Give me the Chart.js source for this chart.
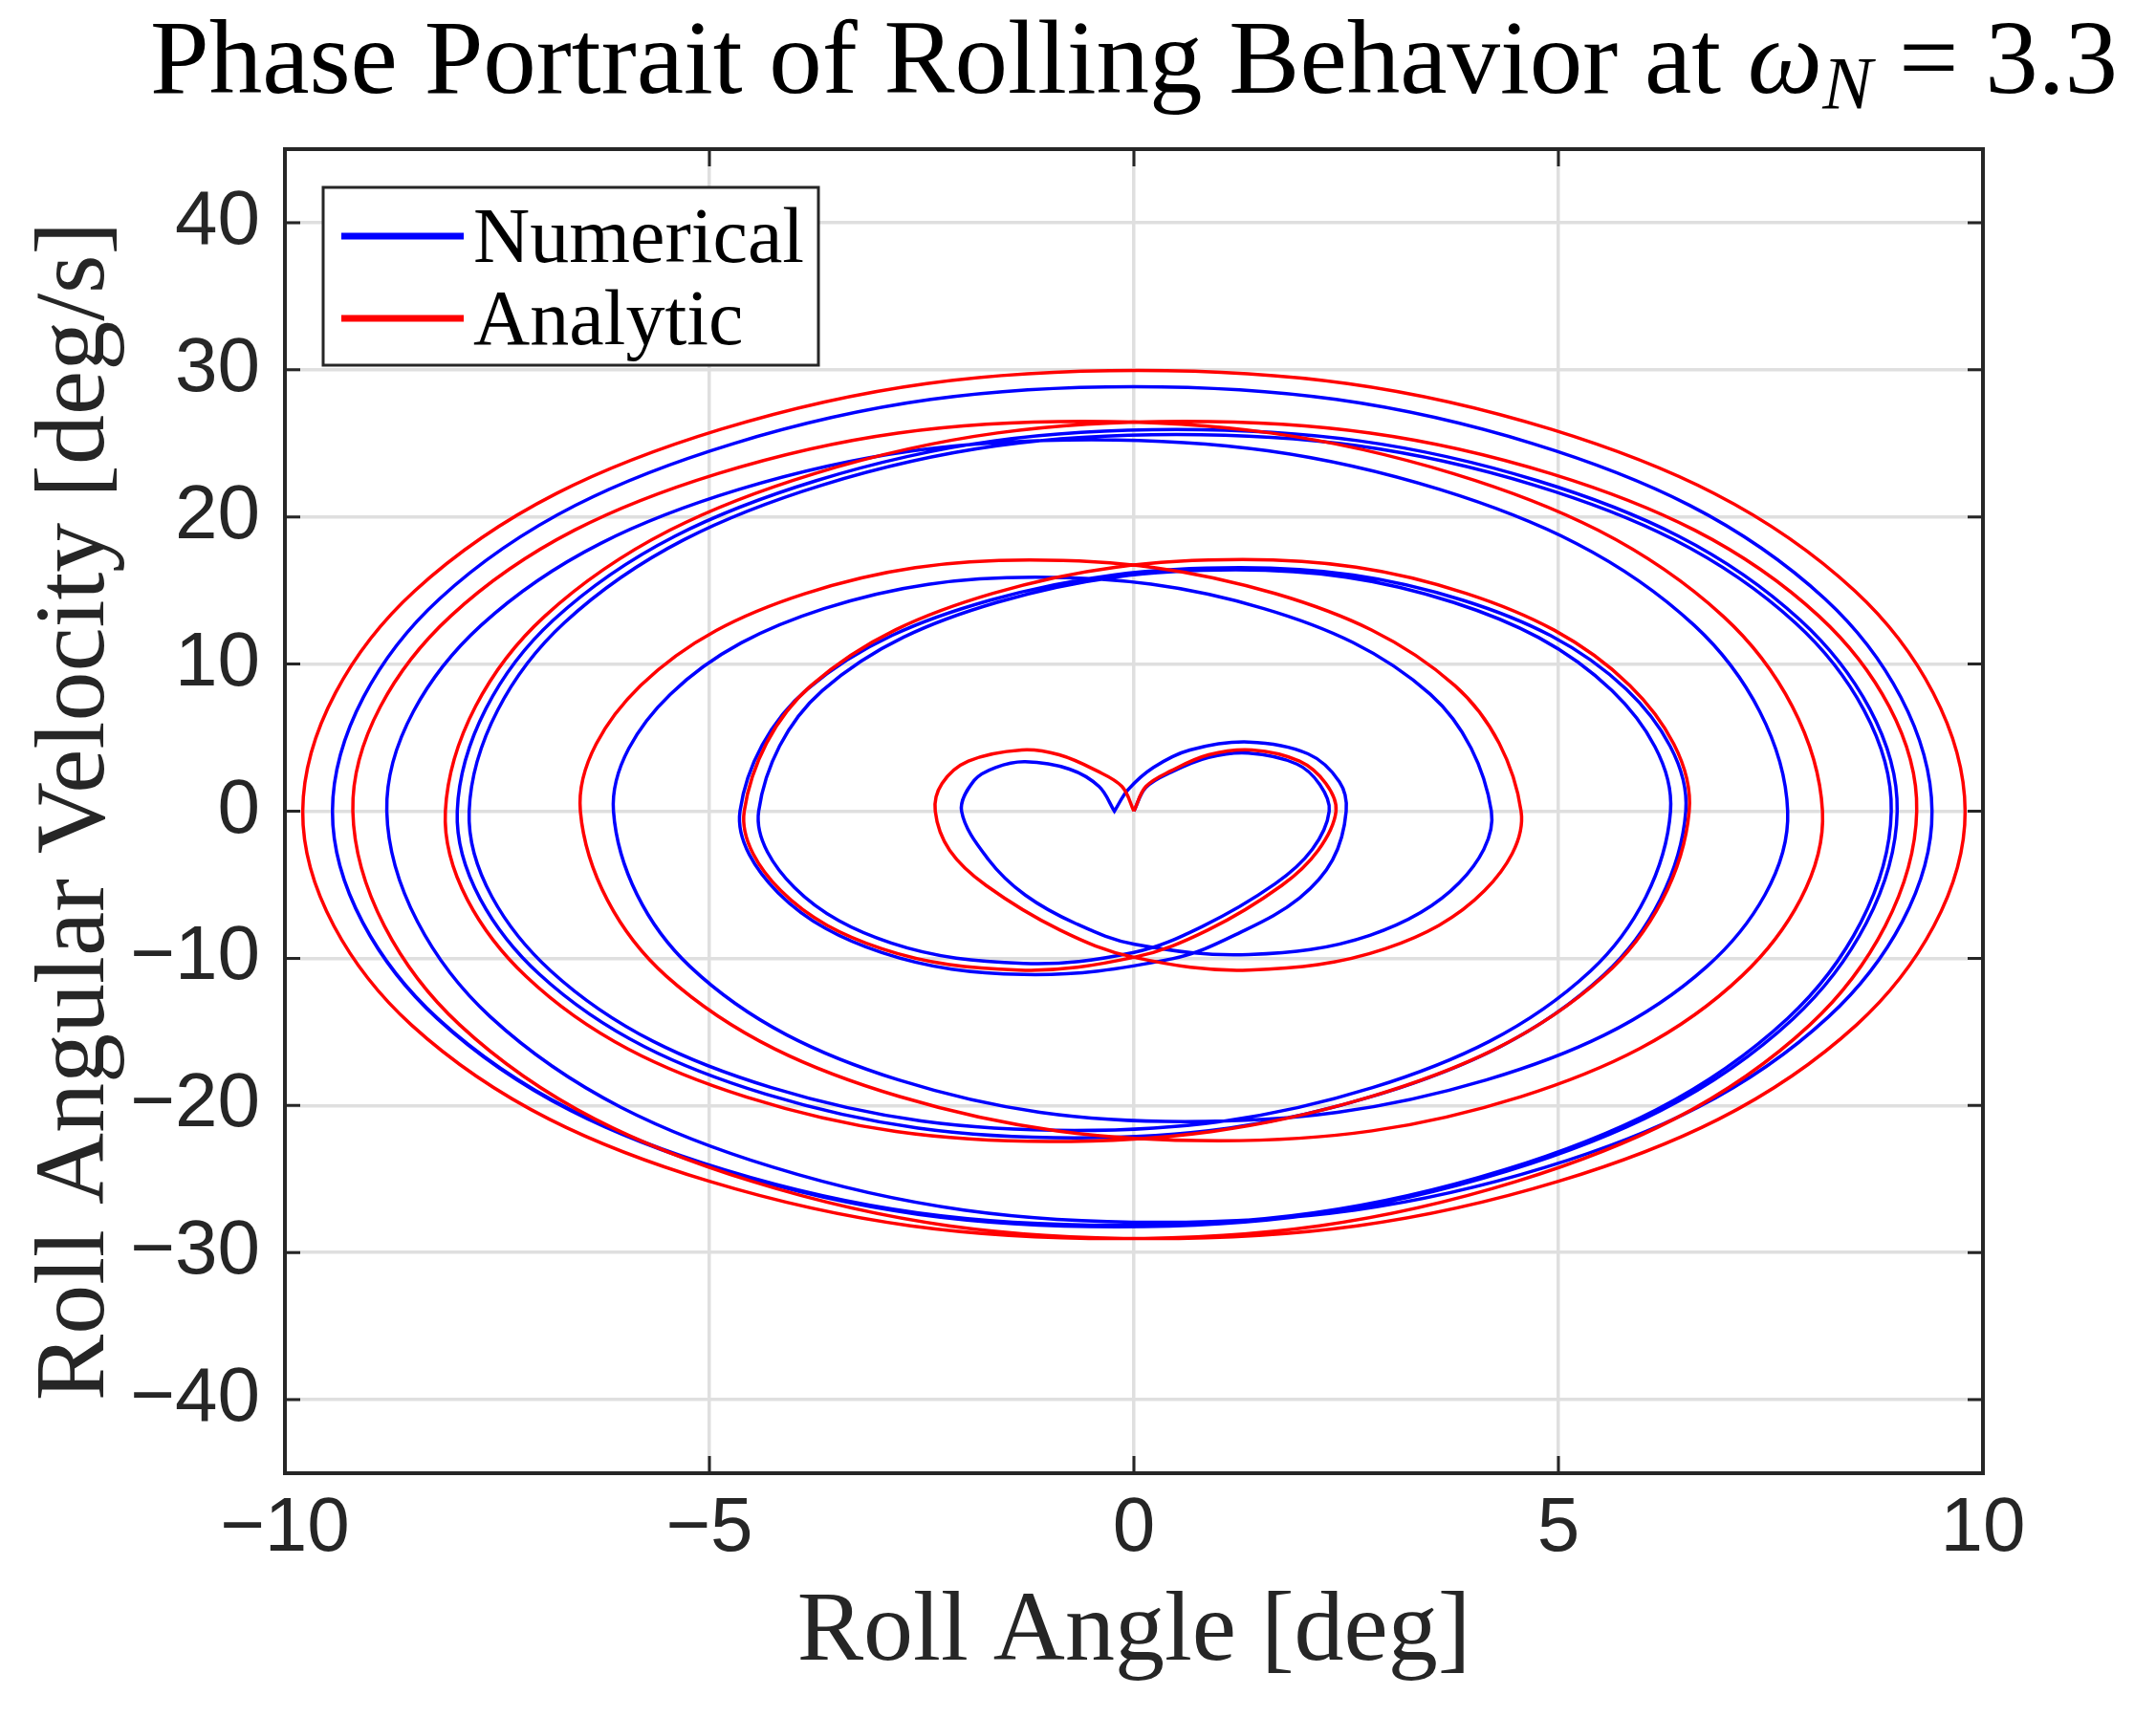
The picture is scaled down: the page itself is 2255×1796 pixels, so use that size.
<!DOCTYPE html>
<html>
<head>
<meta charset="utf-8">
<title>Phase Portrait of Rolling Behavior</title>
<script src="https://cdn.jsdelivr.net/npm/chart.js@4.4.1/dist/chart.umd.min.js"></script>
<style>
  html, body { margin: 0; padding: 0; background: #fff; }
  #wrap { width: 2255px; height: 1796px; }
</style>
</head>
<body>
<div id="wrap"><canvas id="phase" width="2255" height="1796"></canvas></div>
<script>
const numericalX = [
  0, 0.14, 0.44, 0.88, 1.35, 1.92, 2.19, 2.30,
  2.10, 1.66, 0.80, 0.0, -1.3, -2.86, -4.0, -4.42,
  -3.67, -1.61, 1.2, 3.76, 5.63, 6.32,
  5.38, 2.81, -0.7, -4.27, -6.87, -7.83,
  -6.71, -3.67, 0.5, 4.71, 7.79, 8.92,
  7.70, 4.36, -0.2, -4.82, -8.20, -9.44,
  -8.18, -4.72, 0.0, 4.70, 8.14, 9.40,
  8.18, 4.85, 0.3, -4.25, -7.58, -8.80,
  -7.69, -4.65, -0.5, 3.6, 6.60, 7.70,
  6.75, 4.15, 0.6, -2.77, -5.23, -6.13,
  -5.46, -3.65, -1.16, 1.53, 3.49, 4.21,
  3.83, 2.78, 1.35, 0.01, -0.68, -1.28, -1.71, -2.03,
  -1.88, -1.63, -1.28, -0.76, -0.41, -0.23,
  -0.23, -0.07, 0.23, 0.66, 1.35, 2.05, 2.42, 2.50,
  2.34, 1.95, 1.31, 0.45, -1.3, -2.97, -4.19, -4.64,
  -3.85, -1.70, 1.25, 3.88, 5.80, 6.50,
  5.54, 2.9, -0.7, -4.34, -7.0, -7.97,
  -6.84, -3.74, 0.5, 4.75, 7.85, 8.99,
  7.76, 4.40, -0.2, -4.82, -8.20, -9.44,
  -8.18, -4.72, 0.0
];
const numericalY = [
  0, 1.6, 2.65, 3.65, 3.94, 3.2, 1.8, 0,
  -2.6, -4.95, -7.85, -9.6, -10.35, -8.96, -5.18, 0,
  8.2, 14.2, 16.4, 14.2, 8.2, 0,
  -10.85, -18.79, -21.7, -18.79, -10.85, 0,
  12.8, 22.17, 25.6, 22.17, 12.8, 0,
  -14.08, -24.38, -28.15, -24.38, -14.08, 0,
  14.43, 24.98, 28.85, 24.98, 14.43, 0,
  -13.98, -24.2, -27.95, -24.2, -13.98, 0,
  12.63, 21.87, 25.25, 21.87, 12.63, 0,
  -10.55, -18.27, -21.1, -18.27, -10.55, 0,
  7.95, 13.77, 15.9, 13.77, 7.95, 0,
  -4.88, -8.44, -9.75, -9.05, -7.65, -5.7, -3.31, 0,
  2.1, 2.97, 3.36, 2.86, 1.67, 0,
  0, 1.45, 2.97, 4.16, 4.70, 3.9, 2.0, 0,
  -3.31, -5.9, -8.08, -10.03, -11.1, -9.61, -5.55, 0,
  8.28, 14.33, 16.55, 14.33, 8.28, 0,
  -11.1, -19.23, -22.2, -19.23, -11.1, 0,
  12.98, 22.47, 25.95, 22.47, 12.98, 0,
  -14.13, -24.46, -28.25, -24.46, -14.13, 0,
  14.43, 24.98, 28.85
];
// the run stops on the last arc; its final point only steers the curve there
const numericalGuidePoints = 1;

const analyticX = [
  0, 0.14, 0.44, 0.88, 1.39, 1.95, 2.26, 2.38,
  2.17, 1.74, 0.87, 0.01, -1.35, -2.97, -4.16, -4.59,
  -3.80, -1.66, 1.28, 3.91, 5.84, 6.54,
  5.53, 2.77, -1.0, -4.56, -7.16, -8.11,
  -6.94, -3.76, 0.6, 4.91, 8.07, 9.22,
  7.96, 4.51, -0.2, -5.0, -8.51, -9.79,
  -8.47, -4.87, 0.05, 4.92, 8.49, 9.79,
  8.51, 5.0, 0.2, -4.5, -7.94, -9.20,
  -8.05, -4.9, -0.6, 3.76, 6.94, 8.11,
  7.16, 4.56, 1.0, -2.76, -5.51, -6.52,
  -5.81, -3.88, -1.23, 1.67, 3.78, 4.56,
  4.13, 2.96, 1.35, -0.01, -0.87, -1.74, -2.17, -2.34,
  -2.26, -1.95, -1.32, -0.88, -0.44, -0.14, 0
];
const analyticY = [
  0, 1.67, 2.75, 3.83, 4.16, 3.4, 1.88, 0,
  -2.66, -5.05, -8.08, -9.92, -10.8, -9.35, -5.4, 0,
  8.55, 14.81, 17.1, 14.81, 8.55, 0,
  -11.23, -19.44, -22.45, -19.44, -11.23, 0,
  13.25, 22.95, 26.5, 22.95, 13.25, 0,
  -14.53, -25.16, -29.05, -25.16, -14.53, 0,
  14.98, 25.95, 29.96, 25.95, 14.98, 0,
  -14.53, -25.16, -29.05, -25.16, -14.53, 0,
  13.25, 22.95, 26.5, 22.95, 13.25, 0,
  -11.2, -19.4, -22.4, -19.4, -11.2, 0,
  8.54, 14.78, 17.07, 14.78, 8.54, 0,
  -5.4, -9.35, -10.8, -9.92, -8.08, -5.05, -2.66, 0,
  1.88, 3.4, 4.16, 3.83, 2.75, 1.67, 0
];
const seriesNames = ['Numerical', 'Analytic'];
const seriesColors = ['#0000ff', '#ff0000'];
const xTicks = [-10, -5, 0, 5, 10];
const yTicks = [-40, -30, -20, -10, 0, 10, 20, 30, 40];

const toPoints = (xs, ys) => xs.map((x, i) => ({ x: x, y: ys[i] }));
const minus = v => String(v).replace('-', '\u2212');
const ink = '#262626';
const lastShown = numericalX.length - 1 - numericalGuidePoints;

// MATLAB look: boxed axes, inward ticks, legend and latex-ish title
const matlabBox = {
  id: 'matlabBox',
  afterDraw(chart) {
    const { ctx, chartArea: a, scales: { x, y } } = chart;
    ctx.save();

    ctx.strokeStyle = ink;
    ctx.lineWidth = 3;
    ctx.beginPath();
    xTicks.forEach(v => {
      const px = x.getPixelForValue(v);
      ctx.moveTo(px, a.bottom); ctx.lineTo(px, a.bottom - 18);
      ctx.moveTo(px, a.top); ctx.lineTo(px, a.top + 18);
    });
    yTicks.forEach(v => {
      const py = y.getPixelForValue(v);
      ctx.moveTo(a.left, py); ctx.lineTo(a.left + 16, py);
      ctx.moveTo(a.right, py); ctx.lineTo(a.right - 16, py);
    });
    ctx.stroke();
    ctx.lineWidth = 4;
    ctx.strokeRect(a.left, a.top, a.right - a.left, a.bottom - a.top);

    // legend
    ctx.fillStyle = '#fff';
    ctx.fillRect(338, 196, 518, 186);
    ctx.lineWidth = 3;
    ctx.strokeStyle = ink;
    ctx.strokeRect(338, 196, 518, 186);
    ctx.font = '82px "Liberation Serif"';
    ctx.textBaseline = 'alphabetic';
    ctx.textAlign = 'left';
    seriesNames.forEach((name, i) => {
      const ly = 247 + i * 86;
      ctx.strokeStyle = seriesColors[i];
      ctx.lineWidth = 7;
      ctx.beginPath();
      ctx.moveTo(357, ly); ctx.lineTo(485, ly);
      ctx.stroke();
      ctx.fillStyle = '#000';
      ctx.fillText(name, 495, ly + 27);
    });

    // title with omega_N
    const size = 111;
    const parts = [
      { t: 'Phase Portrait of Rolling Behavior at ', f: `${size}px "Liberation Serif"`, dy: 0 },
      { t: '\u03c9', f: `italic ${size}px "Liberation Serif"`, dy: 0 },
      { t: 'N', f: `italic ${Math.round(size * 0.7)}px "Liberation Serif"`, dy: 16 },
      { t: ' = 3.3', f: `${size}px "Liberation Serif"`, dy: 0 }
    ];
    let total = 0;
    parts.forEach(p => { ctx.font = p.f; p.w = ctx.measureText(p.t).width; total += p.w; });
    let tx = (a.left + a.right) / 2 - total / 2;
    ctx.fillStyle = '#000';
    parts.forEach(p => {
      ctx.font = p.f;
      ctx.fillText(p.t, tx, 97 + p.dy);
      tx += p.w;
    });
    ctx.restore();
  }
};

const gridOpts = { color: '#dfdfdf', lineWidth: 3.5, drawTicks: false };
const tickFont = { family: '"Liberation Sans", Arial, sans-serif', size: 80 };
const titleFont = { family: '"Liberation Serif", serif', size: 104 };

new Chart(document.getElementById('phase'), {
  type: 'scatter',
  data: {
    datasets: [
      {
        label: seriesNames[0],
        data: toPoints(numericalX, numericalY),
        showLine: true,
        borderColor: seriesColors[0],
        borderWidth: 3.5,
        tension: 0.36,
        pointRadius: 0,
        order: 2,
        segment: {
          borderColor: c => (c.p0DataIndex >= lastShown ? 'rgba(0,0,0,0)' : undefined)
        }
      },
      {
        label: seriesNames[1],
        data: toPoints(analyticX, analyticY),
        showLine: true,
        borderColor: seriesColors[1],
        borderWidth: 3.5,
        tension: 0.36,
        pointRadius: 0,
        order: 1
      }
    ]
  },
  options: {
    responsive: false,
    animation: false,
    devicePixelRatio: 1,
    layout: { padding: { left: 0, top: 156, right: 181, bottom: 0 } },
    plugins: {
      legend: { display: false },
      tooltip: { enabled: false },
      title: { display: false }
    },
    scales: {
      x: {
        type: 'linear',
        min: -10,
        max: 10,
        afterFit: s => { s.height = 255; },
        afterBuildTicks: s => { s.ticks = xTicks.map(v => ({ value: v })); },
        grid: gridOpts,
        border: { display: false },
        ticks: { padding: 11, font: tickFont, color: ink, maxRotation: 0, autoSkip: false, callback: v => minus(v) },
        title: { display: true, text: 'Roll Angle [deg]', font: titleFont, color: ink, padding: { top: 0, bottom: 25 } }
      },
      y: {
        type: 'linear',
        min: -45,
        max: 45,
        afterFit: s => { s.width = 298; },
        afterBuildTicks: s => { s.ticks = yTicks.map(v => ({ value: v })); },
        grid: gridOpts,
        border: { display: false },
        ticks: { padding: 26, font: tickFont, color: ink, autoSkip: false, callback: v => minus(v) },
        title: { display: true, text: 'Roll Angular Velocity [deg/s]', font: titleFont, color: ink, padding: { top: 18, bottom: 0 } }
      }
    }
  },
  plugins: [matlabBox]
});
</script>
</body>
</html>
